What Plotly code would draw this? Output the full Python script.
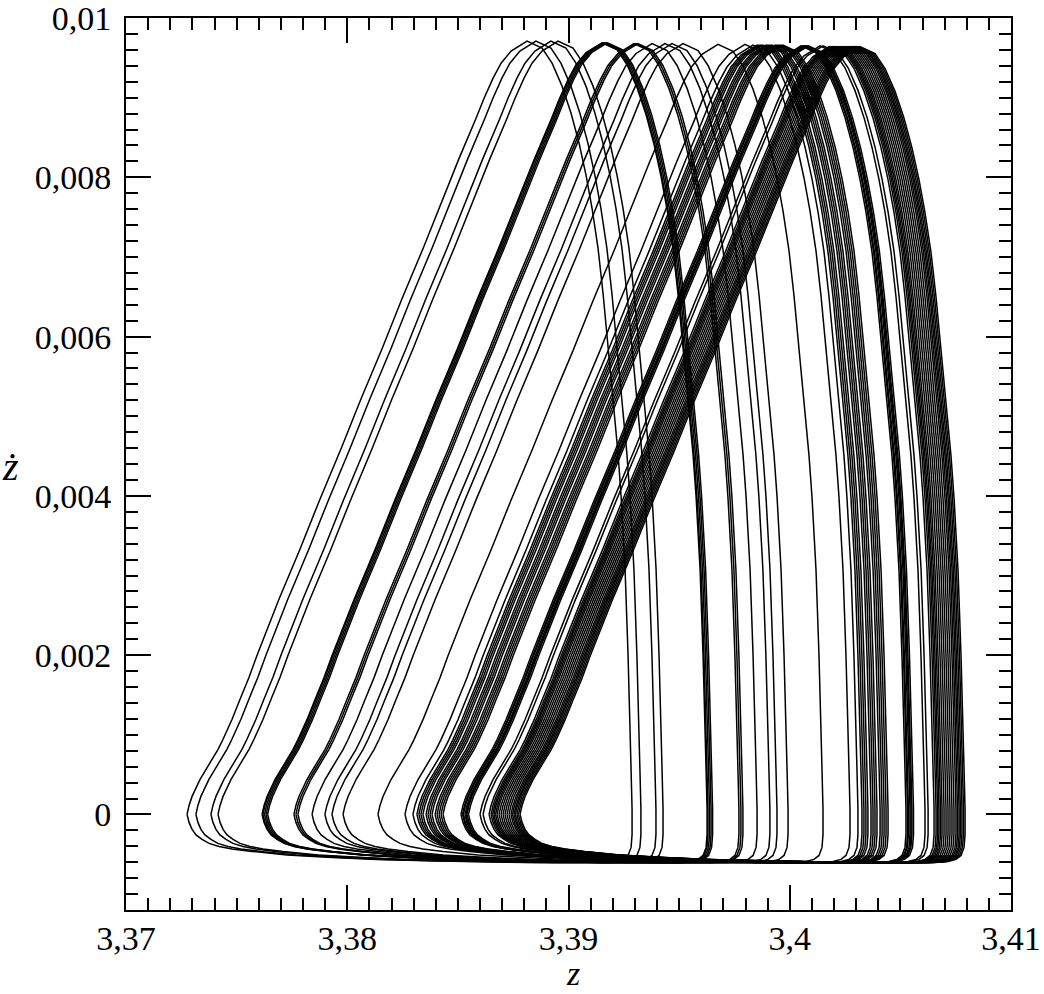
import plotly.graph_objects as go

# Left turning points (z where zdot = 0 on the left) of each loop
loop_left_z = [
    3.37276, 3.37316, 3.37384, 3.37416,
    3.37615, 3.37619, 3.37626, 3.37633, 3.37640,
    3.37759, 3.37768, 3.37777,
    3.37841, 3.37899, 3.37931, 3.37981,
    3.38139, 3.38261,
    3.38297, 3.38315, 3.38324, 3.38333, 3.38342, 3.38356, 3.38365, 3.38374, 3.38383,
    3.38397, 3.38406, 3.38415, 3.38424, 3.38433,
    3.38514, 3.38521, 3.38525, 3.38532, 3.38537, 3.38541, 3.38548,
    3.38600, 3.38614,
    3.38641, 3.38650, 3.38657, 3.38663, 3.38670, 3.38677, 3.38686, 3.38695, 3.38704,
    3.38713, 3.38722, 3.38731,
    3.38740, 3.38747, 3.38754, 3.38760, 3.38767, 3.38774, 3.38781, 3.38785,
]
# Peak zdot of each loop
loop_peak = (
    [0.00971] * 4 + [0.00969] * 5 + [0.00968] * 3 + [0.00968] * 4 + [0.00967] * 2
    + [0.00966] * 14 + [0.00965] * 7 + [0.00965] * 2 + [0.00964] * 11 + [0.00964] * 8
)

# Shape of one loop read off the leftmost loop, in units of 1e-3:
# z offset from the left turning point, and zdot.
shape_dz_e3 = [
    # rising branch
    0.0, 0.090, 0.226, 0.407, 0.588, 0.859, 1.130, 1.401, 1.627, 2.034, 2.395,
    2.802, 3.164, 3.661, 4.158, 5.107, 6.011, 6.960, 7.864, 8.814, 9.718, 10.667,
    11.571, 12.294, 13.062, 13.424, 13.831, 14.192, 14.644, 15.367,
    # falling branch
    16.045, 16.497, 16.949, 17.356, 17.718, 18.034, 18.305, 18.576, 18.802, 18.983,
    19.254, 19.480, 19.616, 19.797, 19.932, 20.023, 20.068, 20.113, 20.113, 20.068,
    19.932, 19.706, 19.345, 18.757,
    # bottom branch
    15.367, 11.299, 8.588, 6.554, 4.520, 2.938, 2.034, 1.446, 0.994, 0.678, 0.407,
    0.226, 0.090, 0.0,
]
shape_zdot_e3 = [
    0.0, 0.113, 0.226, 0.339, 0.439, 0.565, 0.690, 0.816, 0.942, 1.193, 1.444,
    1.720, 1.996, 2.347, 2.699, 3.327, 3.954, 4.582, 5.210, 5.837, 6.465, 7.093,
    7.720, 8.222, 8.725, 8.976, 9.227, 9.415, 9.566, 9.691,
    9.603, 9.415, 9.127, 8.787, 8.411, 8.009, 7.595, 7.093, 6.528, 5.988,
    5.210, 4.519, 3.992, 3.076, 1.996, 1.193, 0.565, 0.063, -0.251, -0.414,
    -0.515, -0.565, -0.590, -0.603,
    -0.603, -0.584, -0.565, -0.540, -0.508, -0.464, -0.433, -0.402, -0.364, -0.314,
    -0.257, -0.188, -0.100, 0.0,
]

x_tick_vals = [3.37, 3.38, 3.39, 3.40, 3.41]
x_tick_text = ["3,37", "3,38", "3,39", "3,4", "3,41"]
y_tick_vals = [0.0, 0.002, 0.004, 0.006, 0.008, 0.010]
y_tick_text = ["0", "0,002", "0,004", "0,006", "0,008", "0,01"]

shape_top = max(shape_zdot_e3) * 1e-3
xs, ys = [], []
for left, peak in zip(loop_left_z, loop_peak):
    k = peak / shape_top
    for dz, v in zip(shape_dz_e3, shape_zdot_e3):
        xs.append(left + dz * 1e-3)
        ys.append(v * 1e-3 * (k if v > 0 else 1.0))
    xs.append(None)
    ys.append(None)

fig = go.Figure()
fig.add_trace(go.Scatter(x=xs, y=ys, mode="lines",
                         line=dict(color="black", width=1.5),
                         connectgaps=False, showlegend=False, hoverinfo="skip"))

FONT = "Liberation Serif"
axis_common = dict(
    showgrid=False, zeroline=False, showline=True, linecolor="black", linewidth=2,
    mirror="allticks", ticks="inside", ticklen=25, tickwidth=1.5, tickcolor="black",
    tickfont=dict(family=FONT, size=34, color="black"), automargin=False,
    ticklabeloverflow="allow",
)
fig.update_xaxes(
    range=[3.37, 3.41], tickmode="array", tickvals=x_tick_vals, ticktext=x_tick_text,
    minor=dict(tickmode="linear", tick0=3.37, dtick=0.001, ticks="inside",
               ticklen=12, tickwidth=1.5, tickcolor="black"),
    ticklabelstandoff=-3,
    **axis_common,
)
fig.update_yaxes(
    range=[-0.0012, 0.0100005], tickmode="array", tickvals=y_tick_vals, ticktext=y_tick_text,
    minor=dict(tickmode="linear", tick0=0, dtick=0.0002, ticks="inside",
               ticklen=12, tickwidth=1.5, tickcolor="black"),
    ticklabelstandoff=6,
    **axis_common,
)
fig.add_annotation(text="<i>z</i>", xref="paper", yref="paper", x=0.505, y=-0.0925,
                   xanchor="center", yanchor="bottom", borderpad=0,
                   showarrow=False, font=dict(family=FONT, size=34, color="black"))
fig.add_annotation(text="<i>ż</i>", xref="paper", yref="paper", x=-0.130, y=0.497,
                   xanchor="center", yanchor="middle",
                   showarrow=False, font=dict(family=FONT, size=40, color="black"))
fig.update_layout(
    width=1044, height=994, autosize=False,
    margin=dict(l=126, r=33, t=18, b=84, pad=0),
    paper_bgcolor="white", plot_bgcolor="white",
)
fig.write_html("out.html")
